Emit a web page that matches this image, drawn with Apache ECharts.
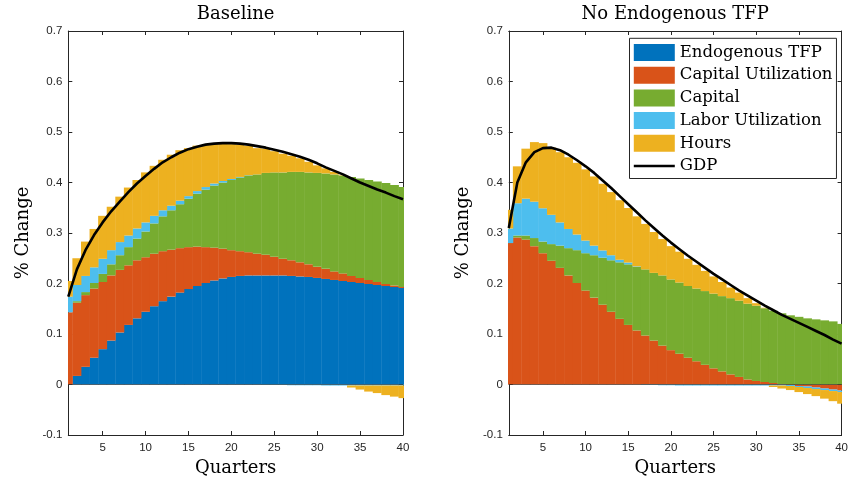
<!DOCTYPE html>
<html>
<head>
<meta charset="utf-8">
<title>GDP decomposition</title>
<script src="https://cdn.jsdelivr.net/npm/echarts@6/dist/echarts.min.js"></script>
<style>
  html, body { margin: 0; padding: 0; background: #fff; }
  #chart { width: 851px; height: 485px; }
</style>
</head>
<body>
<div id="chart"></div>
<script>
// Quarters after the shock and axis ticks
const quarters = Array.from({ length: 40 }, (_, i) => i + 1);
const xTicks = [5, 10, 15, 20, 25, 30, 35, 40];

// Baseline model: contributions to GDP (% change)
const baseTFP = [0, 0.017, 0.035, 0.053, 0.070, 0.087, 0.103, 0.118, 0.131, 0.144,
  0.155, 0.165, 0.174, 0.182, 0.189, 0.195, 0.201, 0.206, 0.210, 0.213,
  0.215, 0.216, 0.216, 0.216, 0.216, 0.216, 0.215, 0.214, 0.213, 0.211,
  0.209, 0.207, 0.205, 0.203, 0.201, 0.199, 0.197, 0.195, 0.193, 0.191];
const baseCapUtil = [0.143, 0.145, 0.142, 0.137, 0.133, 0.129, 0.124, 0.118, 0.115, 0.108,
  0.104, 0.099, 0.093, 0.088, 0.083, 0.078, 0.071, 0.065, 0.059, 0.053,
  0.049, 0.046, 0.043, 0.041, 0.037, 0.033, 0.031, 0.028, 0.025, 0.022,
  0.020, 0.017, 0.015, 0.012, 0.010, 0.008, 0.006, 0.004, 0.003, 0.002];
const baseCapital = [0.000, 0.003, 0.006, 0.011, 0.016, 0.022, 0.029, 0.036, 0.043, 0.051,
  0.060, 0.069, 0.078, 0.087, 0.096, 0.105, 0.114, 0.123, 0.131, 0.139,
  0.146, 0.152, 0.157, 0.162, 0.167, 0.171, 0.175, 0.179, 0.182, 0.186,
  0.189, 0.192, 0.194, 0.196, 0.197, 0.198, 0.199, 0.200, 0.199, 0.198];
const baseLaborUtil = [0.031, 0.032, 0.032, 0.031, 0.030, 0.028, 0.026, 0.023, 0.020, 0.018,
  0.015, 0.012, 0.009, 0.007, 0.005, 0.005, 0.005, 0.004, 0.003, 0.002,
  0.001, 0.0005, 0, -0.001, -0.001, -0.001, -0.0015, -0.0015, -0.0015, -0.0015,
  -0.002, -0.002, -0.002, -0.002, -0.002, -0.002, -0.002, -0.002, -0.002, -0.002];
const baseHours = [0.031, 0.053, 0.068, 0.076, 0.085, 0.086, 0.090, 0.095, 0.096, 0.099,
  0.099, 0.100, 0.101, 0.100, 0.095, 0.090, 0.083, 0.080, 0.074, 0.069,
  0.064, 0.058, 0.052, 0.048, 0.042, 0.037, 0.032, 0.027, 0.021, 0.015,
  0.010, 0.005, 0.001, -0.004, -0.008, -0.012, -0.015, -0.019, -0.022, -0.025];
const baseGDP = [0.174, 0.228, 0.266, 0.296, 0.321, 0.343, 0.362, 0.381, 0.398, 0.413,
  0.427, 0.440, 0.450, 0.459, 0.466, 0.471, 0.475, 0.477, 0.478, 0.478,
  0.477, 0.475, 0.472, 0.469, 0.465, 0.461, 0.456, 0.451, 0.445, 0.438,
  0.430, 0.423, 0.416, 0.408, 0.400, 0.393, 0.386, 0.380, 0.373, 0.367];

// Model without endogenous TFP
const noTFP = new Array(40).fill(0);
const noCapUtil = [0.280, 0.291, 0.287, 0.274, 0.260, 0.245, 0.231, 0.216, 0.201, 0.186,
  0.172, 0.158, 0.144, 0.130, 0.118, 0.107, 0.097, 0.087, 0.077, 0.068,
  0.061, 0.053, 0.046, 0.039, 0.032, 0.026, 0.020, 0.015, 0.010, 0.007,
  0.005, 0.003, 0.001, -0.001, -0.003, -0.004, -0.006, -0.008, -0.010, -0.012];
const noCapital = [0.000, 0.004, 0.008, 0.016, 0.023, 0.033, 0.044, 0.054, 0.065, 0.074,
  0.084, 0.093, 0.102, 0.112, 0.120, 0.126, 0.131, 0.134, 0.139, 0.140,
  0.141, 0.142, 0.144, 0.146, 0.148, 0.149, 0.151, 0.151, 0.150, 0.149,
  0.146, 0.143, 0.140, 0.137, 0.134, 0.131, 0.129, 0.127, 0.125, 0.120];
const noLaborUtil = [0.029, 0.064, 0.073, 0.072, 0.066, 0.058, 0.046, 0.038, 0.031, 0.025,
  0.019, 0.0145, 0.010, 0.005, 0.0035, 0.001, -0.001, -0.001, -0.0015, -0.0015,
  -0.002, -0.002, -0.002, -0.002, -0.002, -0.002, -0.002, -0.002, -0.002, -0.002,
  -0.002, -0.002, -0.002, -0.002, -0.002, -0.003, -0.003, -0.003, -0.003, -0.003];
const noHours = [0.037, 0.073, 0.099, 0.118, 0.129, 0.133, 0.139, 0.142, 0.142, 0.141,
  0.137, 0.132, 0.125, 0.118, 0.108, 0.099, 0.090, 0.081, 0.072, 0.066,
  0.061, 0.054, 0.047, 0.040, 0.034, 0.028, 0.021, 0.016, 0.011, 0.005,
  0.001, -0.003, -0.006, -0.008, -0.010, -0.012, -0.014, -0.017, -0.020, -0.023];
const noGDP = [0.310, 0.400, 0.440, 0.460, 0.468, 0.469, 0.464, 0.455, 0.444, 0.432,
  0.419, 0.404, 0.389, 0.373, 0.357, 0.341, 0.325, 0.310, 0.295, 0.281,
  0.268, 0.255, 0.243, 0.231, 0.219, 0.208, 0.197, 0.186, 0.176, 0.166,
  0.156, 0.147, 0.138, 0.130, 0.122, 0.114, 0.106, 0.098, 0.089, 0.081];

const componentNames = ['Endogenous TFP', 'Capital Utilization', 'Capital', 'Labor Utilization', 'Hours'];
const componentColors = ['#0072BD', '#D95319', '#77AC30', '#4DBEEE', '#EDB120'];

const serifFont = 'DejaVu Serif';
const tickFont = 'Liberation Sans';
const axisColor = '#262626';

const panels = [
  { title: 'Baseline', left: 68.3, width: 334.7,
    parts: [baseTFP, baseCapUtil, baseCapital, baseLaborUtil, baseHours], gdp: baseGDP },
  { title: 'No Endogenous TFP', left: 508.8, width: 333.4,
    parts: [noTFP, noCapUtil, noCapital, noLaborUtil, noHours], gdp: noGDP }
];
const gridTop = 28;
const gridHeight = 407;

const fmtY = (v) => { const r = Math.round(v * 10) / 10; return r === 0 ? '0' : r.toFixed(1); };

// Stack the components: positive values pile up above zero, negative ones below,
// each in series order. Rows are [quarter, base, top].
function stackRows(parts) {
  const out = parts.map(() => []);
  quarters.forEach((q, i) => {
    let pos = 0, neg = 0;
    parts.forEach((vals, j) => {
      const v = vals[i];
      if (v >= 0) { out[j].push([q, pos, pos + v]); pos += v; }
      else { out[j].push([q, neg, neg + v]); neg += v; }
    });
  });
  return out;
}

// One bar per quarter, one quarter wide, clipped by the plot area
function barRenderer(color) {
  return function (params, api) {
    const q = api.value(0), b = api.value(1), t = api.value(2);
    if (b === t) return null;
    const p0 = api.coord([q - 0.5, Math.max(b, t)]);
    const p1 = api.coord([q + 0.5, Math.min(b, t)]);
    return {
      type: 'rect',
      shape: { x: p0[0] - 0.2, y: p0[1], width: p1[0] - p0[0] + 0.4, height: p1[1] - p0[1] },
      style: { fill: color }
    };
  };
}

const grids = [], xAxes = [], yAxes = [], series = [];

panels.forEach((p, k) => {
  grids.push({ left: p.left, top: gridTop, width: p.width, height: gridHeight, containLabel: false });
  const tickStyle = { show: true, inside: true, length: 4, customValues: xTicks,
    lineStyle: { color: axisColor, width: 1 } };
  xAxes.push({
    type: 'value', gridIndex: k, position: 'bottom', min: 1, max: 40,
    axisLine: { show: true, onZero: false, lineStyle: { color: axisColor, width: 1 } },
    axisTick: tickStyle,
    axisLabel: { show: true, customValues: xTicks, margin: 7, color: axisColor, fontFamily: tickFont, fontSize: 11.5 },
    splitLine: { show: false },
    name: 'Quarters', nameLocation: 'middle', nameGap: 24,
    nameTextStyle: { fontFamily: serifFont, fontSize: 18, color: '#000' }
  });
  // top edge of the box, carrying the panel title
  xAxes.push({
    type: 'value', gridIndex: k, position: 'top', min: 1, max: 40,
    axisLine: { show: true, onZero: false, lineStyle: { color: axisColor, width: 1 } },
    axisTick: tickStyle,
    axisLabel: { show: false },
    splitLine: { show: false },
    name: p.title, nameLocation: 'middle', nameGap: 8,
    nameTextStyle: { fontFamily: serifFont, fontSize: 18, color: '#000' }
  });
  const yTick = { show: true, inside: true, length: 4, lineStyle: { color: axisColor, width: 1 } };
  yAxes.push({
    type: 'value', gridIndex: k, position: 'left', min: -0.1, max: 0.7, interval: 0.1,
    axisLine: { show: true, onZero: false, lineStyle: { color: axisColor, width: 1 } },
    axisTick: yTick,
    axisLabel: { formatter: fmtY, margin: 6, color: axisColor, fontFamily: tickFont, fontSize: 11.5 },
    splitLine: { show: false },
    name: '% Change', nameLocation: 'middle', nameGap: 36, nameRotate: 90,
    nameTextStyle: { fontFamily: serifFont, fontSize: 18, color: '#000' }
  });
  yAxes.push({
    type: 'value', gridIndex: k, position: 'right', min: -0.1, max: 0.7, interval: 0.1,
    axisLine: { show: true, onZero: false, lineStyle: { color: axisColor, width: 1 } },
    axisTick: yTick,
    axisLabel: { show: false },
    splitLine: { show: false }
  });

  const rows = stackRows(p.parts);
  rows.forEach((data, j) => {
    const s = {
      type: 'custom', name: componentNames[j],
      xAxisIndex: 2 * k, yAxisIndex: 2 * k,
      data: data, clip: true,
      encode: { x: 0, y: [1, 2] },
      itemStyle: { color: componentColors[j] },
      renderItem: barRenderer(componentColors[j]),
      silent: true, z: 2
    };
    if (j === 0) {
      // bar baseline at zero
      s.markLine = {
        silent: true, symbol: 'none',
        label: { show: false },
        lineStyle: { color: axisColor, width: 0.6, type: 'solid' },
        data: [{ yAxis: 0 }]
      };
    }
    series.push(s);
  });
  series.push({
    type: 'line', name: 'GDP', xAxisIndex: 2 * k, yAxisIndex: 2 * k,
    data: quarters.map((q, i) => [q, p.gdp[i]]), showSymbol: false, symbol: 'none',
    lineStyle: { color: '#000', width: 2.6 }, itemStyle: { color: '#000' },
    emphasis: { disabled: true }, silent: true, z: 5
  });
});

const chart = echarts.init(document.getElementById('chart'), null, { renderer: 'canvas' });
chart.setOption({
  animation: false,
  backgroundColor: '#fff',
  grid: grids,
  xAxis: xAxes,
  yAxis: yAxes,
  legend: {
    orient: 'vertical', left: 629.5, top: 38.3,
    itemWidth: 41, itemHeight: 17, itemGap: 5.7,
    padding: [5.7, 4, 4, 3],
    borderColor: axisColor, borderWidth: 1, backgroundColor: '#fff',
    selectedMode: false, z: 10,
    textStyle: { fontFamily: serifFont, fontSize: 16.5, color: '#000' },
    data: componentNames.map((n) => ({ name: n, icon: 'rect' })).concat([
      { name: 'GDP', itemStyle: { opacity: 0 }, lineStyle: { width: 2.6, color: '#000' } }
    ])
  },
  series: series
});
</script>
</body>
</html>
